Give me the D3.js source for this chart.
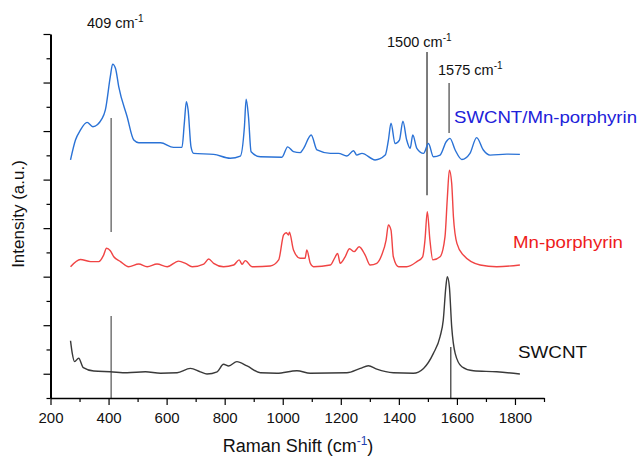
<!DOCTYPE html>
<html><head><meta charset="utf-8">
<script src="https://cdn.jsdelivr.net/npm/d3@7/dist/d3.min.js"></script>
<style>body{margin:0;background:#fff}svg{display:block}</style></head>
<body><svg id="chart" width="641" height="457"></svg>
<script>
// ---- data (Raman shift in cm^-1, intensity in a.u. with vertical offsets) ----
const hybridShift = [269,286,303,326,346,378,389,406,414,424,435,464,487,504,579,624,653,661,668,674,684,693,762,819,854,868,874,882,891,923,997,1017,1037,1060,1072,1098,1118,1164,1192,1221,1244,1255,1273,1318,1353,1364,1373,1387,1402,1414,1427,1439,1448,1462,1485,1502,1519,1542,1563,1576,1594,1617,1645,1668,1691,1714,1772,1817];
const hybridIntensity = [9.81,10.63,11.04,11.36,11.18,11.52,11.87,13.24,13.76,13.58,12.83,11.59,10.63,10.52,10.52,10.33,10.33,11.33,12.21,11.87,10.35,10.08,10.04,9.88,9.97,11.18,12.31,11.59,10.15,9.94,9.92,10.35,10.15,10.11,10.29,10.84,10.22,10.08,10.08,9.97,10.19,10.01,10.08,9.81,10.01,10.63,11.32,10.49,10.63,11.41,10.63,10.29,10.84,10.29,10.08,10.49,9.94,10.01,10.56,10.70,10.22,9.83,10.08,10.73,10.22,10.01,10.05,10.04];

const porphyrinShift = [269,303,338,366,383,393,406,418,441,469,504,533,567,602,641,665,688,728,745,762,796,831,850,860,871,894,957,986,1003,1012,1020,1023,1037,1060,1077,1083,1095,1106,1164,1181,1189,1198,1215,1230,1246,1263,1284,1301,1324,1341,1356,1364,1373,1381,1399,1427,1462,1482,1490,1498,1507,1517,1542,1559,1567,1574,1582,1588,1600,1622,1680,1737,1817];
const porphyrinIntensity = [5.41,5.71,5.62,5.62,5.89,6.17,6.07,5.82,5.62,5.41,5.52,5.41,5.52,5.41,5.64,5.55,5.41,5.52,5.73,5.55,5.41,5.48,5.69,5.51,5.66,5.41,5.44,5.69,6.72,6.81,6.72,6.83,6.10,5.76,5.76,6.10,5.55,5.41,5.48,5.82,5.96,5.55,5.82,6.15,6.03,6.23,5.89,5.48,5.55,5.89,6.51,7.13,6.92,5.82,5.41,5.41,5.62,5.82,6.51,7.68,6.51,5.69,5.82,6.65,8.24,9.39,8.85,7.47,6.37,5.89,5.48,5.41,5.48];

const swcntShift = [269,275,283,297,313,349,406,464,527,579,636,682,716,739,774,796,814,842,877,923,980,1049,1095,1221,1267,1295,1324,1381,1450,1485,1519,1542,1553,1562,1567,1574,1582,1594,1617,1657,1737,1817];
const swcntIntensity = [2.36,1.84,1.50,1.64,1.25,1.11,1.08,1.04,1.08,1.02,1.04,1.22,1.08,0.99,1.08,1.39,1.32,1.50,1.32,1.04,1.02,1.12,1.02,1.04,1.22,1.33,1.19,1.04,1.02,1.22,1.84,2.53,3.21,4.59,5.00,4.59,2.94,1.84,1.29,1.12,1.08,0.99];

const seriesNames = ["SWCNT/Mn-porphyrin", "Mn-porphyrin", "SWCNT"];
const xTicks = [200,300,400,500,600,700,800,900,1000,1100,1200,1300,1400,1500,1600,1700,1800,1900];
const xTickLabels = [200,400,600,800,1000,1200,1400,1600,1800];
const yTicks = [0,1,2,3,4,5,6,7,8,9,10,11,12,13,14,15];

// marker lines: shift position and intensity span
const markerShift = [409, 409, 1497, 1573, 1579];
const markerFrom  = [11.54, 3.38, 14.26, 12.98, 2.10];
const markerTo    = [6.84, 0, 8.36, 10.92, 0];
const markerLabels = ["409 cm", "1500 cm", "1575 cm"];

// ---- drawing ----
const svg = d3.select("#chart");
const FONT = "'Liberation Sans', Arial, Helvetica, sans-serif";
const x = d3.scaleLinear().domain([200, 1900]).range([50.5, 544]);
const y = d3.scaleLinear().domain([0, 15]).range([398, 34]);

svg.append("rect").attr("width", 641).attr("height", 457).attr("fill", "#fff");

// marker lines
const markerColors = ["#7d7d7d", "#7d7d7d", "#111", "#333", "#222"];
const markerWidths = [1.6, 1.6, 1.1, 1.1, 1.1];
markerShift.forEach((s, i) => {
  svg.append("line")
    .attr("x1", x(s)).attr("x2", x(s))
    .attr("y1", y(markerFrom[i])).attr("y2", y(markerTo[i]))
    .attr("stroke", markerColors[i]).attr("stroke-width", markerWidths[i]);
});

// spectra
const line = d3.line().x(d => x(d[0])).y(d => y(d[1])).curve(d3.curveMonotoneX);
const series = [
  {xs: hybridShift, ys: hybridIntensity, color: "#2a72d6"},
  {xs: porphyrinShift, ys: porphyrinIntensity, color: "#f04444"},
  {xs: swcntShift, ys: swcntIntensity, color: "#3a3a3a"}
];
series.forEach(s => {
  svg.append("path")
    .datum(d3.zip(s.xs, s.ys))
    .attr("fill", "none").attr("stroke", s.color)
    .attr("stroke-width", 1.4).attr("stroke-linejoin", "round")
    .attr("d", line);
});

// x axis
const xAxis = d3.axisBottom(x).tickValues(xTicks).tickSizeInner(7).tickSizeOuter(0).tickPadding(7)
  .tickFormat(d => xTickLabels.includes(d) ? d : "");
const gx = svg.append("g").attr("transform", "translate(0,398)").call(xAxis);
gx.selectAll(".tick line").attr("y2", d => xTickLabels.includes(d) ? 7 : 4).attr("stroke-width", 1.2);
gx.select(".domain").attr("stroke-width", 1.5);
gx.selectAll("text").attr("font-family", FONT).attr("font-size", 15).attr("fill", "#111");

// y axis
const yAxis = d3.axisLeft(y).tickValues(yTicks).tickSizeInner(7).tickSizeOuter(0).tickFormat("");
const gy = svg.append("g").attr("transform", "translate(50.5,0)").call(yAxis);
gy.selectAll(".tick line").attr("x2", d => d % 2 === 1 ? -7 : -4).attr("stroke-width", 1.2);
gy.select(".domain").attr("stroke-width", 2);

// axis titles
const xt = svg.append("text").attr("x", 298).attr("y", 452).attr("text-anchor", "middle")
  .attr("font-family", FONT).attr("font-size", 18).attr("fill", "#111");
xt.append("tspan").text("Raman Shift (cm");
xt.append("tspan").attr("dy", -7).attr("font-size", 12).attr("fill", "#1f3fb0").text("-1");
xt.append("tspan").attr("dy", 7).text(")");

svg.append("text").attr("transform", "translate(24,214) rotate(-90)").attr("text-anchor", "middle")
  .attr("font-family", FONT).attr("font-size", 17).attr("fill", "#111").text("Intensity (a.u.)");

// marker labels
const labelPos = [[87, 28], [387, 47], [438, 75]];
markerLabels.forEach((t, i) => {
  const tx = svg.append("text").attr("x", labelPos[i][0]).attr("y", labelPos[i][1])
    .attr("font-family", FONT).attr("font-size", 14.5).attr("fill", "#111");
  tx.append("tspan").text(t);
  tx.append("tspan").attr("dy", -6).attr("font-size", 10).text("-1");
});

// series labels
const seriesLabelPos = [[454, 123, 183], [513, 248, 110], [518, 358, 69]];
const seriesLabelColors = ["#2121d9", "#ee1c1c", "#111"];
seriesNames.forEach((n, i) => {
  svg.append("text").attr("x", seriesLabelPos[i][0]).attr("y", seriesLabelPos[i][1])
    .attr("font-family", FONT).attr("font-size", 17).attr("fill", seriesLabelColors[i])
    .attr("textLength", seriesLabelPos[i][2]).attr("lengthAdjust", "spacingAndGlyphs")
    .text(n);
});
</script></body></html>
